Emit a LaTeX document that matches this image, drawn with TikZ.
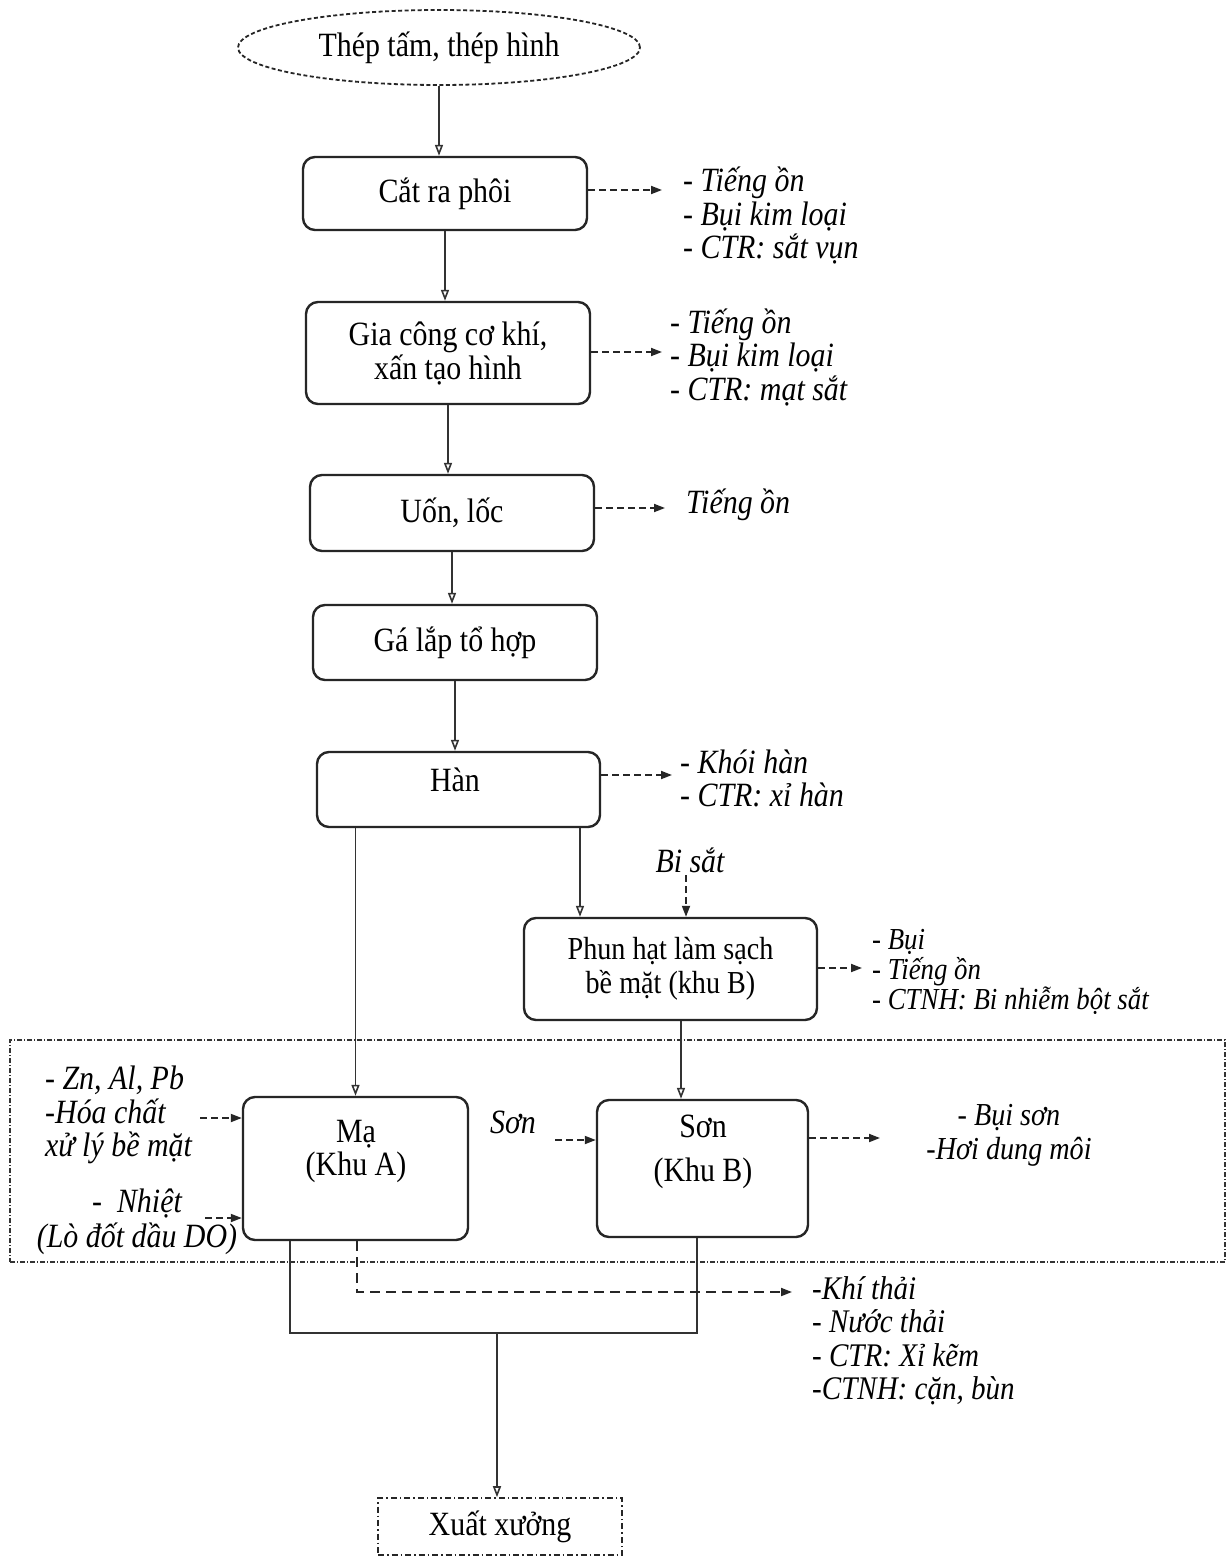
\documentclass[tikz,border=0pt]{standalone}
\usepackage{fontspec}
\setmainfont{Liberation Serif}[FakeStretch=0.88]
\usetikzlibrary{arrows.meta,shapes.geometric}
\begin{document}
\begin{tikzpicture}[x=1pt,y=-1pt,
  proc/.style={draw=black!85, line width=2.4pt, rounded corners=12pt, inner sep=0pt, align=center, font=\fontsize{34}{34}\selectfont},
  plain/.style={draw=black!80, line width=1.6pt},
  flow/.style={draw=black!80, line width=1.6pt, -{Triangle[open,length=11pt,width=8pt]}},
  darr/.style={draw=black!85, line width=1.8pt, dash pattern=on 7pt off 4pt, -{Triangle[length=11pt,width=8pt]}},
  txt/.style={inner sep=0pt, align=center, font=\fontsize{34}{34}\selectfont},
  itl/.style={inner sep=0pt, align=left, anchor=west, font=\fontsize{34}{33.5}\selectfont\itshape},
  itls/.style={inner sep=0pt, align=left, anchor=west, font=\fontsize{30.5}{30}\selectfont\itshape}
]
\fill[white] (0,0) rectangle (1229,1558);
\useasboundingbox (0,0) rectangle (1229,1558);

% zone
\node[draw=black!80, line width=1.1pt, dash pattern=on 5pt off 2pt on 1pt off 2pt, minimum width=1215pt, minimum height=222pt, inner sep=0pt] (zone) at (617.5,1151) {};

% main nodes
\node[ellipse, draw=black!85, line width=1.8pt, dash pattern=on 4pt off 2.5pt, minimum width=402pt, minimum height=75pt, inner sep=0pt, font=\fontsize{34}{34}\selectfont] (e) at (439,47.5) {Thép tấm, thép hình};
\node[proc, minimum width=284pt, minimum height=73pt] (b1) at (445,193.5) {Cắt ra phôi};
\node[proc, minimum width=284pt, minimum height=102pt] (b2) at (448,353) {Gia công cơ khí,\\xấn tạo hình};
\node[proc, minimum width=284pt, minimum height=76pt] (b3) at (452,513) {Uốn, lốc};
\node[proc, minimum width=284pt, minimum height=75pt] (b4) at (455,642.5) {Gá lắp tổ hợp};
\node[proc, minimum width=283pt, minimum height=75pt] (b5) at (458.5,789.5) {};
\node[txt] (t5) at (455,780) {Hàn};
\node[proc, minimum width=293pt, minimum height=102pt, font=\fontsize{32}{34}\selectfont] (phun) at (670.5,969) {Phun hạt làm sạch\\bề mặt (khu B)};
\node[proc, minimum width=225pt, minimum height=143pt] (ma) at (355.5,1168.5) {};
\node[txt, font=\fontsize{34}{33}\selectfont] (tma) at (356,1151) {Mạ\\(Khu A)};
\node[proc, minimum width=211pt, minimum height=137pt] (son) at (702.5,1168.5) {};
\node[txt, font=\fontsize{34}{44}\selectfont] (tson) at (703,1152) {Sơn\\(Khu B)};
\node[draw=black!85, line width=1.6pt, dash pattern=on 6pt off 3pt on 1.5pt off 3pt, minimum width=244pt, minimum height=57pt, inner sep=0pt, font=\fontsize{34}{34}\selectfont] (xx) at (500,1526.5) {Xuất xưởng};

% emission texts
\node[itl] (l1) at (683,215.5) {- Tiếng ồn\\- Bụi kim loại\\- CTR: sắt vụn};
\node[itl] (l2) at (670,357) {- Tiếng ồn\\- Bụi kim loại\\- CTR: mạt sắt};
\node[itl] (l3) at (686,505) {Tiếng ồn};
\node[itl] (l5) at (680,778.5) {- Khói hàn\\- CTR: xỉ hàn};
\node[itls] (l6) at (872,971.5) {- Bụi\\- Tiếng ồn\\- CTNH: Bi nhiễm bột sắt};
\node[itl] (in1) at (45,1115) {- Zn, Al, Pb\\-Hóa chất\\xử lý bề mặt};
\node[inner sep=0pt, align=center, font=\fontsize{34}{35}\selectfont\itshape] (in2) at (137,1222) {-\ \ Nhiệt\\(Lò đốt dầu DO)};
\node[inner sep=0pt, font=\fontsize{34}{34}\selectfont\itshape] (in3) at (513,1122) {Sơn};
\node[inner sep=0pt, align=center, font=\fontsize{32}{34}\selectfont\itshape] (lson) at (1009,1135) {- Bụi sơn\\-Hơi dung môi};
\node[inner sep=0pt, font=\fontsize{34}{34}\selectfont\itshape] (bisat) at (690,860) {Bi sắt};
\node[inner sep=0pt, align=left, anchor=west, font=\fontsize{33}{33.5}\selectfont\itshape] (lout) at (812,1340.5) {-Khí thải\\- Nước thải\\- CTR: Xỉ kẽm\\-CTNH: cặn, bùn};

% coordinates
\coordinate (a1) at (662,190);
\coordinate (a2) at (662,352);
\coordinate (a3) at (665,508);
\coordinate (a5) at (672,775);
\coordinate (a6) at (862,968);
\coordinate (hx) at (580,0);
\coordinate (sx) at (681,0);
\coordinate (bx) at (686,875);
\coordinate (c1) at (200,1118);
\coordinate (c2) at (205,1218);
\coordinate (c3) at (555,1140);
\coordinate (c4) at (880,1138);
\coordinate (jl) at (290,1333);
\coordinate (jr) at (697,1333);
\coordinate (jm) at (497,1333);
\coordinate (kt) at (357,1292);
\coordinate (kte) at (792,1292);

% main flow
\draw[flow] (e.south) -- (e.south |- b1.north);
\draw[flow] (b1.south) -- (b1.south |- b2.north);
\draw[flow] (b2.south) -- (b2.south |- b3.north);
\draw[flow] (b3.south) -- (b3.south |- b4.north);
\draw[flow] (b4.south) -- (b4.south |- b5.north);
\draw[flow] (b5.south -| ma.north) -- (ma.north);
\draw[flow] (b5.south -| hx) -- (phun.north -| hx);
\draw[flow] (phun.south -| sx) -- (son.north -| sx);
\draw[plain] (ma.south -| jl) -- (jl) -- (jr) -- (son.south -| jr);
\draw[flow] (jm) -- (jm |- xx.north);

% dashed
\draw[darr] (b1.east |- a1) -- (a1);
\draw[darr] (b2.east |- a2) -- (a2);
\draw[darr] (b3.east |- a3) -- (a3);
\draw[darr] (b5.east |- a5) -- (a5);
\draw[darr] (phun.east |- a6) -- (a6);
\draw[darr] (bx) -- (bx |- phun.north);
\draw[darr] (c1) -- (c1 -| ma.west);
\draw[darr] (c2) -- (c2 -| ma.west);
\draw[darr] (c3) -- (c3 -| son.west);
\draw[darr] (son.east |- c4) -- (c4);
\draw[darr, dash pattern=on 10pt off 6pt] (ma.south -| kt) -- (kt) -- (kte);
\end{tikzpicture}
\end{document}
